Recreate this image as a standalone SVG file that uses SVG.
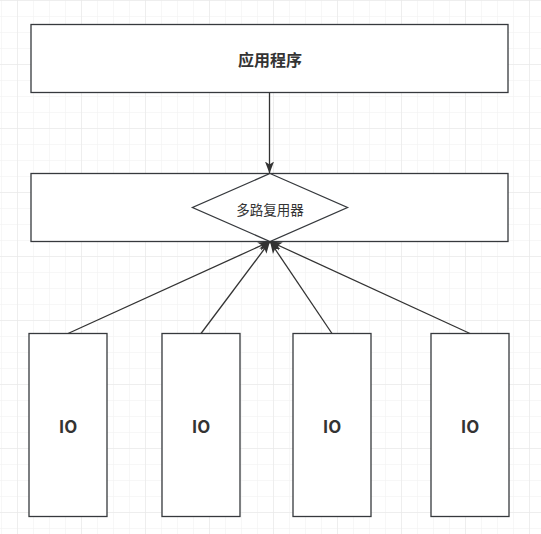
<svg xmlns="http://www.w3.org/2000/svg" width="541" height="534" viewBox="0 0 541 534">
<defs>
<pattern id="minor" x="1" y="0" width="16" height="16" patternUnits="userSpaceOnUse">
<path d="M0 0V16M0 0H16" fill="none" stroke="#f0f0f0" stroke-width="1"/>
</pattern>
<pattern id="major" x="17" y="0" width="64" height="64" patternUnits="userSpaceOnUse">
<path d="M0 0V64M0 0H64" fill="none" stroke="#e6e6e6" stroke-width="1"/>
</pattern>
<marker id="arr" viewBox="0 0 12 10" refX="12" refY="5" markerWidth="12" markerHeight="10" markerUnits="userSpaceOnUse" orient="auto">
<path d="M0 0.5L12 5L0 9.5L3 5Z" fill="#333"/>
</marker>
</defs>
<style>
.box{fill:#fff;stroke:#36393d;stroke-width:1.3}
.edge{fill:none;stroke:#333;stroke-width:1.3}
.t{font-family:"Noto Sans CJK SC","Liberation Sans",sans-serif;fill:#333;text-anchor:middle;dominant-baseline:central}
.b{font-weight:bold}
</style>
<rect width="541" height="534" fill="#fff"/>
<rect width="541" height="534" fill="url(#minor)"/>
<rect width="541" height="534" fill="url(#major)"/>
<g id="app">
<rect class="box" x="31" y="24.5" width="477" height="68"/>
<text class="t b" x="270" y="58.5" font-size="16">应用程序</text>
</g>
<g id="mux-box">
<rect class="box" x="31" y="173.5" width="477" height="68"/>
</g>
<g id="mux">
<polygon class="box" points="270,173.5 347.5,207.5 270,241.5 192.5,207.5"/>
<text class="t" x="270" y="209" font-size="13.5">多路复用器</text>
</g>
<g id="io1">
<rect class="box" x="29" y="333.5" width="78" height="183"/>
<text class="t b" x="68" y="425.5" font-size="17" font-family="'Liberation Sans',sans-serif">IO</text>
</g>
<g id="io2">
<rect class="box" x="162" y="333.5" width="78" height="183"/>
<text class="t b" x="201" y="425.5" font-size="17" font-family="'Liberation Sans',sans-serif">IO</text>
</g>
<g id="io3">
<rect class="box" x="293" y="333.5" width="78" height="183"/>
<text class="t b" x="332" y="425.5" font-size="17" font-family="'Liberation Sans',sans-serif">IO</text>
</g>
<g id="io4">
<rect class="box" x="431" y="333.5" width="78" height="183"/>
<text class="t b" x="470" y="425.5" font-size="17" font-family="'Liberation Sans',sans-serif">IO</text>
</g>
<g id="connectors">
<line class="edge" x1="269.5" y1="92.5" x2="269.5" y2="173.5" marker-end="url(#arr)"/>
<line class="edge" x1="68" y1="333.5" x2="270" y2="241.5" marker-end="url(#arr)"/>
<line class="edge" x1="201" y1="333.5" x2="270" y2="241.5" marker-end="url(#arr)"/>
<line class="edge" x1="332" y1="333.5" x2="270" y2="241.5" marker-end="url(#arr)"/>
<line class="edge" x1="470" y1="333.5" x2="270" y2="241.5" marker-end="url(#arr)"/>
</g>
</svg>
